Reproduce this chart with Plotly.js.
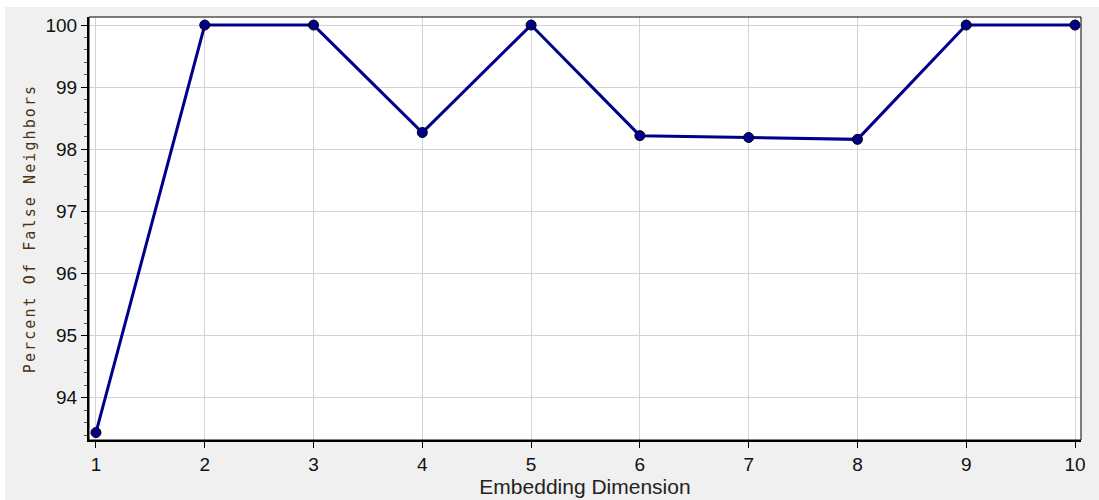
<!DOCTYPE html>
<html><head><meta charset="utf-8">
<script src="https://cdn.plot.ly/plotly-3.0.1.min.js"></script>
<style>
html,body{margin:0;padding:0;background:#ffffff;}
#bg{position:absolute;left:5px;top:7px;width:1094px;height:493px;background:#f0f0f0;}
#chart{position:absolute;left:0;top:0;width:1099px;height:500px;}
</style></head>
<body>
<div id="bg"></div>
<div id="chart"></div>
<script>
const dimensions = [1, 2, 3, 4, 5, 6, 7, 8, 9, 10];
const falseNeighborsPct = [93.44, 100, 100, 98.27, 100, 98.22, 98.19, 98.16, 100, 100];
const yTickVals = [94, 95, 96, 97, 98, 99, 100];
const xTickVals = [1, 2, 3, 4, 5, 6, 7, 8, 9, 10];

const trace = {
  x: dimensions, y: falseNeighborsPct, type: 'scatter', mode: 'lines+markers',
  line: {color: '#00008b', width: 3},
  marker: {color: '#00008b', size: 10, line: {color: '#000000', width: 1}},
  cliponaxis: false, hoverinfo: 'skip'
};
const tickFont = {family: '"Liberation Sans Narrow", "Liberation Sans", Arial, sans-serif', size: 19, color: '#111111'};
const layout = {
  width: 1099, height: 500,
  margin: {l: 89, r: 18, t: 17, b: 60},
  paper_bgcolor: 'rgba(0,0,0,0)', plot_bgcolor: '#ffffff',
  showlegend: false,
  xaxis: {
    range: [0.936, 10.055], tickvals: xTickVals, ticks: 'outside', ticklen: 6, tickwidth: 1, tickcolor: '#000',
    showgrid: true, gridcolor: '#d3d3d3', gridwidth: 1, zeroline: false,
    showline: true, linecolor: '#000', linewidth: 2, tickfont: tickFont,
    title: {text: 'Embedding Dimension', font: {family: '"Liberation Sans", Arial, sans-serif', size: 21, color: '#222'}, standoff: 4}
  },
  yaxis: {
    range: [93.32, 100.13], tickvals: yTickVals, ticks: 'outside', ticklen: 6, tickwidth: 1, tickcolor: '#000',
    minor: {dtick: 0.2, ticks: 'outside', ticklen: 3, tickcolor: '#555', showgrid: false},
    showgrid: true, gridcolor: '#d3d3d3', gridwidth: 1, zeroline: false,
    showline: true, linecolor: '#000', linewidth: 2, tickfont: tickFont,
    title: {text: 'Percent Of False Neighbors', font: {family: '"DejaVu Sans Mono", monospace', size: 15, color: '#4a3312'}, standoff: 6}
  },
  shapes: [{type: 'rect', xref: 'paper', yref: 'paper', x0: 0, x1: 1, y0: 0, y1: 1, line: {color: '#000', width: 1}, fillcolor: 'rgba(0,0,0,0)'}]
};
Plotly.newPlot('chart', [trace], layout, {displayModeBar: false, staticPlot: true}).then(function(){
  const t = document.querySelector('.ytitle');
  if (t) { t.style.letterSpacing = '2.1px'; }
});
</script>
</body></html>
